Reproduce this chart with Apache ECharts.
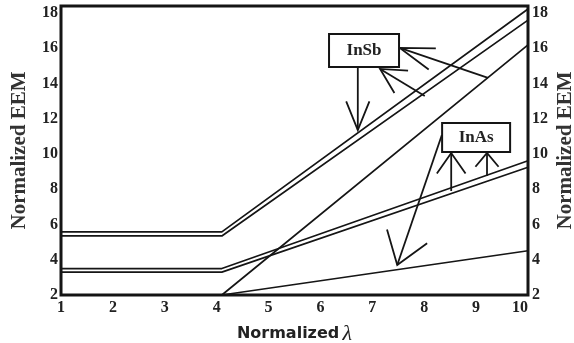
<!DOCTYPE html>
<html>
<head>
<meta charset="utf-8">
<script src="https://cdn.jsdelivr.net/npm/echarts@6/dist/echarts.min.js"></script>
<style>
  html, body { margin: 0; padding: 0; background: #fff; }
  #chart { width: 574px; height: 343px; }
</style>
</head>
<body>
<div id="chart"></div>
<script>
// Normalized wavelength: start, break point, end
const lambdaPts = [1, 4.1, 10];

// Normalized EEM of each curve at lambdaPts
const inSbUpper  = [5.58, 5.58, 18.23];
const inSbMiddle = [5.35, 5.35, 17.6];
const inSbLower  = [2, 2, 16.19];
const inAsUpper  = [3.5, 3.5, 9.62];
const inAsMiddle = [3.3, 3.3, 9.25];
const inAsLower  = [2, 2, 4.51];

// Tick labels
const xTicks = [1, 2, 3, 4, 5, 6, 7, 8, 9, 10];
const yTicks = [2, 4, 6, 8, 10, 12, 14, 16, 18];

// Callout labels: [lambda, EEM, text]
const callouts = [
  [6.84, 15.88, 'InSb'],
  [9.0, 10.94, 'InAs']
];

// Callout arrows: [tail lambda, tail EEM, tip lambda, tip EEM]
const arrows = [
  [6.72, 14.94, 6.72, 11.36],
  [9.23, 14.32, 7.53, 16.02],
  [8.01, 13.29, 7.15, 14.83],
  [8.52, 7.90, 8.52, 10.06],
  [9.21, 8.75, 9.21, 10.06],
  [8.34, 11.08, 7.48, 3.70]
];

// Arrow-head drawing style per arrow: [length px, half-angle deg]
const headStyle = [[31, 22], [36, 18], [28, 28], [25, 35], [18, 40], [37, 35]];
// Callout box sizes in px
const boxSize = { InSb: [70, 33], InAs: [68, 29] };

const INK = '#151515';
const serif = 'Liberation Serif';

function pts(values) {
  return lambdaPts.map((x, i) => [x, values[i]]);
}

function lineSeries(name, values) {
  return {
    name: name,
    type: 'line',
    data: pts(values),
    symbol: 'none',
    silent: true,
    animation: false,
    lineStyle: { color: INK, width: 1.7 },
    z: 3
  };
}

const yLabelStyle = {
  fontFamily: serif, fontWeight: 'bold', fontSize: 16, color: '#222',
  showMaxLabel: false,
  formatter: v => (yTicks.indexOf(v) >= 0 ? String(v) : '')
};

const chart = echarts.init(document.getElementById('chart'), null, { renderer: 'canvas' });

chart.setOption({
  animation: false,
  backgroundColor: '#fff',
  grid: {
    left: 61, right: 46, top: 6, bottom: 48,
    outerBoundsMode: 'none',
    containLabel: false,
    show: true, borderColor: INK, borderWidth: 3, backgroundColor: 'transparent'
  },
  xAxis: {
    type: 'value', min: xTicks[0], max: xTicks[xTicks.length - 1], interval: 1,
    axisLine: { show: false }, axisTick: { show: false }, splitLine: { show: false },
    axisLabel: {
      fontFamily: serif, fontWeight: 'bold', fontSize: 16, color: '#222', margin: 5,
      alignMaxLabel: 'right',
      formatter: v => (xTicks.indexOf(v) >= 0 ? String(v) : '')
    },
    name: '{a|Normalized} {b|λ}',
    nameLocation: 'middle',
    nameGap: 28,
    nameTextStyle: {
      rich: {
        a: { fontFamily: 'DejaVu Sans', fontWeight: 'bold', fontSize: 16, color: '#222' },
        b: { fontFamily: serif, fontStyle: 'italic', fontSize: 22, color: '#222' }
      }
    }
  },
  yAxis: [
    {
      type: 'value', min: yTicks[0], max: 18.4, interval: 2, position: 'left',
      axisLine: { show: false }, axisTick: { show: false }, splitLine: { show: false },
      axisLabel: Object.assign({ margin: 3 }, yLabelStyle),
      name: 'Normalized EEM', nameLocation: 'middle', nameRotate: 90, nameGap: 31,
      nameTextStyle: { fontFamily: serif, fontWeight: 'bold', fontSize: 21, color: '#333' }
    },
    {
      type: 'value', min: yTicks[0], max: 18.4, interval: 2, position: 'right',
      axisLine: { show: false }, axisTick: { show: false }, splitLine: { show: false },
      axisLabel: Object.assign({ margin: 4 }, yLabelStyle),
      name: 'Normalized EEM', nameLocation: 'middle', nameRotate: 90, nameGap: 27,
      nameMoveOverlap: false,
      nameTextStyle: { fontFamily: serif, fontWeight: 'bold', fontSize: 21, color: '#333' }
    }
  ],
  series: [
    lineSeries('InSb upper', inSbUpper),
    lineSeries('InSb middle', inSbMiddle),
    lineSeries('InSb lower', inSbLower),
    lineSeries('InAs upper', inAsUpper),
    lineSeries('InAs middle', inAsMiddle),
    lineSeries('InAs lower', inAsLower),
    {
      type: 'custom',
      name: 'arrows',
      silent: true,
      clip: false,
      data: arrows,
      encode: { x: [0, 2], y: [1, 3] },
      z: 5,
      renderItem: function (params, api) {
        const tail = api.coord([api.value(0), api.value(1)]);
        const tip = api.coord([api.value(2), api.value(3)]);
        const hs = headStyle[params.dataIndex];
        const dx = tail[0] - tip[0], dy = tail[1] - tip[1];
        const len = Math.hypot(dx, dy) || 1;
        const ux = dx / len, uy = dy / len;
        const a = hs[1] * Math.PI / 180;
        const rot = s => [
          tip[0] + hs[0] * (ux * Math.cos(s * a) - uy * Math.sin(s * a)),
          tip[1] + hs[0] * (ux * Math.sin(s * a) + uy * Math.cos(s * a))
        ];
        const style = { stroke: INK, lineWidth: 1.8, fill: null };
        return {
          type: 'group',
          children: [
            { type: 'line', shape: { x1: tail[0], y1: tail[1], x2: tip[0], y2: tip[1] }, style: style },
            { type: 'polyline', shape: { points: [rot(1), tip, rot(-1)] }, style: style }
          ]
        };
      }
    },
    {
      type: 'custom',
      name: 'callouts',
      silent: true,
      clip: false,
      data: callouts,
      encode: { x: 0, y: 1 },
      z: 6,
      renderItem: function (params, api) {
        const c = api.coord([api.value(0), api.value(1)]);
        const label = callouts[params.dataIndex][2];
        const sz = boxSize[label];
        return {
          type: 'group',
          children: [
            {
              type: 'rect',
              shape: { x: c[0] - sz[0] / 2, y: c[1] - sz[1] / 2, width: sz[0], height: sz[1] },
              style: { fill: '#fff', stroke: INK, lineWidth: 2 }
            },
            {
              type: 'text',
              style: {
                x: c[0], y: c[1], text: label,
                align: 'center', verticalAlign: 'middle',
                font: 'bold 17px "Liberation Serif"', fill: '#222'
              }
            }
          ]
        };
      }
    }
  ]
});
</script>
</body>
</html>
